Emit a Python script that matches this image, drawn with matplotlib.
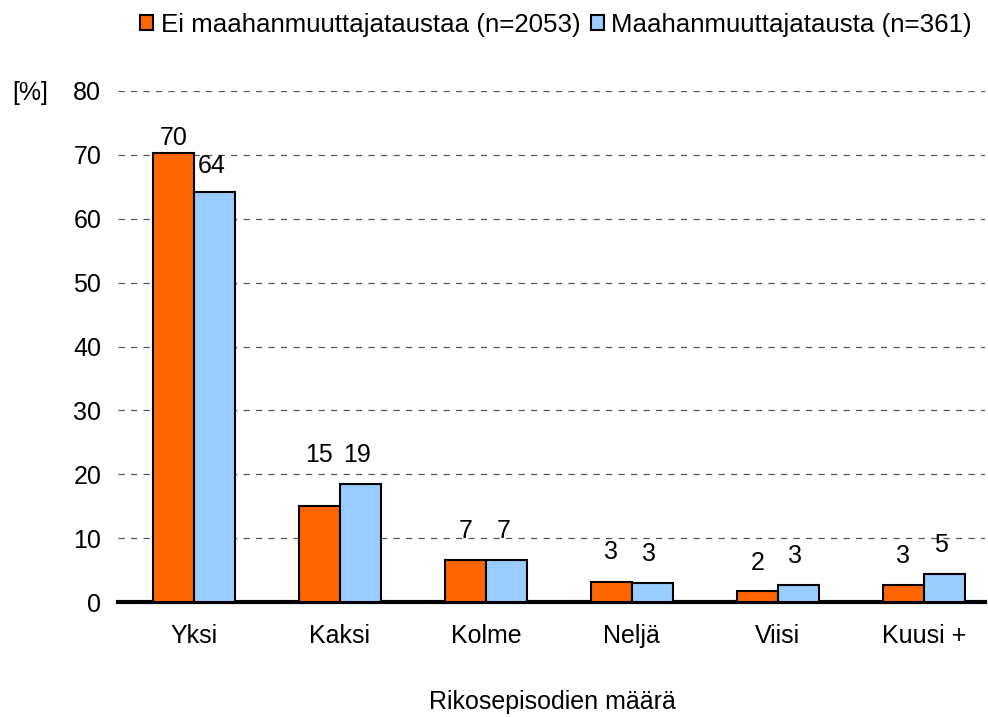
import numpy as np
import matplotlib.pyplot as plt

plt.rcParams['font.family'] = ['Liberation Sans', 'DejaVu Sans']

categories = ["Yksi", "Kaksi", "Kolme", "Neljä", "Viisi", "Kuusi +"]
ei_maahan = [70.3, 15.0, 6.5, 3.2, 1.7, 2.6]
maahan = [64.2, 18.5, 6.6, 2.9, 2.6, 4.4]
ei_labels = ["70", "15", "7", "3", "2", "3"]
m_labels = ["64", "19", "7", "3", "3", "5"]

orange = "#ff6600"
blue = "#99ccff"
fs = 18

fig = plt.figure(figsize=(9.88, 7.17), dpi=100)
ax = fig.add_axes([118/988, 1 - 602/717, (985-118)/988, (602-91)/717])

x = np.arange(len(categories))
w = 0.28
b1 = ax.bar(x - w/2, ei_maahan, w, color=orange, edgecolor="black", linewidth=1.5, zorder=3,
            label="Ei maahanmuuttajataustaa (n=2053)")
b2 = ax.bar(x + w/2, maahan, w, color=blue, edgecolor="black", linewidth=1.5, zorder=3,
            label="Maahanmuuttajatausta (n=361)")

# label offsets (points above bar top)
off1 = [11, 37, 21, 21, 20, 21]
off2 = [19, 21, 21, 21, 21, 21]
for i in range(len(categories)):
    ax.annotate(ei_labels[i], (x[i] - w/2, ei_maahan[i]), xytext=(0, off1[i]),
                textcoords="offset points", ha="center", va="center", fontsize=fs)
    ax.annotate(m_labels[i], (x[i] + w/2 - 0.02, maahan[i]), xytext=(0, off2[i]),
                textcoords="offset points", ha="center", va="center", fontsize=fs)

ax.set_ylim(0, 80)
ax.set_xlim(-0.52, 5.42)
ax.set_yticks(range(0, 81, 10))
ax.yaxis.grid(True, linestyle=(0, (5, 5)), color="#555555", linewidth=0.9)
ax.set_axisbelow(True)
for s in ["top", "right", "left"]:
    ax.spines[s].set_visible(False)
ax.spines["bottom"].set_linewidth(3)
ax.tick_params(axis="y", length=0, pad=12, labelsize=fs)
ax.tick_params(axis="x", length=0, pad=16, labelsize=fs)
ax.set_xticks(x)
ax.set_xticklabels(categories)

fig.text(552/988, 1 - 702/717, "Rikosepisodien määrä", fontsize=fs, ha="center", va="center")
fig.text(30/988, 1 - 93/717, "[%]", fontsize=fs, ha="center", va="center")

fig.legend(handles=[b1, b2], loc="center", bbox_to_anchor=(556/988, 1 - 25/717), ncol=2,
           frameon=False, fontsize=18.6, handlelength=0.5, handleheight=0.5, handletextpad=0.3,
           columnspacing=0.4, borderpad=0)

plt.savefig("out.png", dpi=100)
